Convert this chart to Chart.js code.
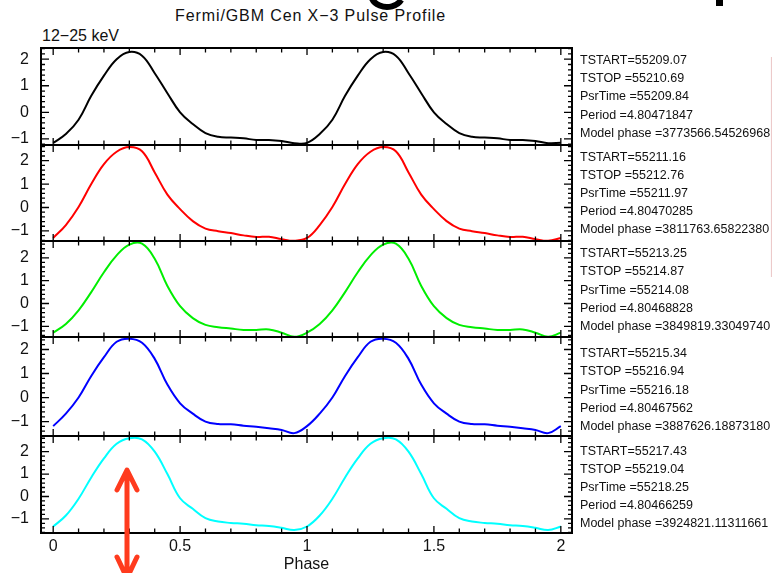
<!DOCTYPE html>
<html><head><meta charset="utf-8">
<script src="https://cdn.jsdelivr.net/npm/chart.js@4/dist/chart.umd.min.js"></script>
<style>
html,body{margin:0;padding:0;background:#fff;width:772px;height:573px;overflow:hidden;}
#wrap{position:relative;width:772px;height:573px;overflow:hidden;}
canvas{position:absolute;left:0;top:0;}
.t{position:absolute;font-family:"Liberation Sans",Arial,Helvetica,sans-serif;color:#111;white-space:nowrap;}
.info{font-size:12.5px;line-height:18.2px;}
</style></head><body><div id="wrap">
<div class="t" style="left:175px;top:7.5px;font-size:16px;line-height:16px;letter-spacing:0.9px;">Fermi/GBM Cen X−3 Pulse Profile</div>
<div class="t" style="left:42px;top:28px;font-size:16px;line-height:16px;">12−25 keV</div>
</div>
<script>
// ---- data (one pulse cycle, shown twice over phase 0-2) ----
const phase = [0,0.05,0.1,0.15,0.2,0.25,0.3,0.35,0.4,0.45,0.5,0.55,0.6,0.65,0.7,0.75,0.8,0.85,0.9,0.95];
const black = [-1.15,-0.82,-0.28,0.62,1.38,2.00,2.27,2.13,1.47,0.72,0.00,-0.44,-0.78,-0.92,-0.95,-0.98,-1.04,-1.04,-1.08,-1.16];
const red   = [-1.30,-0.75,0.02,1.00,1.85,2.38,2.58,2.40,1.50,0.55,-0.07,-0.58,-0.90,-1.01,-1.09,-1.19,-1.26,-1.25,-1.35,-1.42];
const green = [-1.28,-0.90,-0.30,0.50,1.37,2.11,2.58,2.62,1.96,0.77,-0.12,-0.64,-0.94,-1.04,-1.10,-1.16,-1.16,-1.14,-1.28,-1.46];
const blue  = [-1.19,-0.67,0.00,0.90,1.68,2.32,2.45,2.28,1.61,0.54,-0.24,-0.67,-1.00,-1.10,-1.11,-1.17,-1.22,-1.28,-1.35,-1.48];
const cyan  = [-1.34,-0.85,-0.10,0.85,1.70,2.35,2.60,2.55,2.00,1.00,-0.08,-0.55,-0.97,-1.12,-1.18,-1.22,-1.28,-1.32,-1.40,-1.50];
const xTicks = [0,0.5,1,1.5,2];
const yTicks = [-1,0,1,2];
const tstart = ['55209.07','55211.16','55213.25','55215.34','55217.43'];
const tstop  = ['55210.69','55212.76','55214.87','55216.94','55219.04'];
const psrTime= ['55209.84','55211.97','55214.08','55216.18','55218.25'];
const period = ['4.80471847','4.80470285','4.80468828','4.80467562','4.80466259'];
const modelPhase = ['3773566.54526968','3811763.65822380','3849819.33049740','3887626.18873180','3924821.11311661'];

const FONT = '"Liberation Sans", Arial, Helvetica, sans-serif';
const wrap = document.getElementById('wrap');

const panels = [
  {vals:black, color:'#000000', min:-1.23, max:2.42, top:48,  bottom:145, info:60},
  {vals:red,   color:'#ff0000', min:-1.43, max:2.67, top:145, bottom:241, info:156.7},
  {vals:green, color:'#00ee00', min:-1.47, max:2.74, top:241, bottom:337, info:253.3},
  {vals:blue,  color:'#0000ff', min:-1.60, max:2.52, top:337, bottom:436, info:353.3},
  {vals:cyan,  color:'#00ffff', min:-1.63, max:2.70, top:436, bottom:533, info:450.7}
];

const framePlugin = {
  id:'frame',
  afterDatasetsDraw(chart){
    const {ctx, chartArea:a} = chart;
    const x = chart.scales.x, y = chart.scales.y;
    ctx.save();
    ctx.strokeStyle = '#000';
    ctx.lineWidth = 1.3;
    ctx.beginPath();
    for (let k = 0; k <= 20; k++) {
      const px = x.getPixelForValue(k/10);
      const len = (k % 5 === 0) ? 7 : 4.5;
      ctx.moveTo(px, a.top); ctx.lineTo(px, a.top + len);
      ctx.moveTo(px, a.bottom); ctx.lineTo(px, a.bottom - len);
    }
    for (let k = Math.ceil(y.min*5); k <= Math.floor(y.max*5); k++) {
      const py = y.getPixelForValue(k/5);
      const len = (k % 5 === 0) ? 8 : 4;
      ctx.moveTo(a.left, py); ctx.lineTo(a.left + len, py);
      ctx.moveTo(a.right, py); ctx.lineTo(a.right - len, py);
    }
    ctx.stroke();
    ctx.lineWidth = 2;
    ctx.strokeRect(a.left, a.top, a.right - a.left, a.bottom - a.top);
    ctx.restore();
  }
};

const decoPlugin = {
  id:'deco',
  afterDraw(chart){
    const ctx = chart.ctx;
    ctx.save();
    // red double arrow annotation
    ctx.strokeStyle = '#ff3b1e'; ctx.lineWidth = 5; ctx.lineCap = 'round'; ctx.lineJoin = 'round';
    ctx.beginPath();
    ctx.moveTo(127, 472); ctx.lineTo(127, 576);
    ctx.moveTo(117, 490); ctx.lineTo(127, 470); ctx.lineTo(137, 490);
    ctx.moveTo(117, 557); ctx.lineTo(127, 578); ctx.lineTo(137, 557);
    ctx.stroke();
    // fragments of slide heading glyphs
    ctx.strokeStyle = '#000'; ctx.lineWidth = 6; ctx.lineCap = 'butt';
    ctx.beginPath();
    ctx.ellipse(387, -6, 16, 13, 0, 0.15*Math.PI, 0.95*Math.PI);
    ctx.stroke();
    ctx.fillStyle = '#000';
    ctx.fillRect(716, 0, 7, 6);
    // pink slide line
    ctx.strokeStyle = '#eccaca'; ctx.lineWidth = 1.2;
    ctx.beginPath(); ctx.moveTo(771.5, 57); ctx.lineTo(771.5, 277); ctx.stroke();
    ctx.restore();
  }
};

panels.forEach((p, i) => {
  const last = i === panels.length - 1;
  const cv = document.createElement('canvas');
  cv.width = 772; cv.height = 573;
  wrap.appendChild(cv);
  const pts = [];
  for (let c = 0; c < 2; c++) phase.forEach((ph, j) => pts.push({x: ph + c, y: p.vals[j]}));
  pts.push({x: 2, y: p.vals[0]});
  const xScale = {type: 'linear', min: -0.048, max: 2.044, display: last,
            grid: {display: false, drawTicks: false}, border: {display: false},
            afterBuildTicks: s => { s.ticks = xTicks.map(v => ({value: v})); },
            ticks: {font: {family: FONT, size: 16}, color: '#111', padding: 4, maxRotation: 0, autoSkip: false,
                    callback: v => String(v)},
            title: {display: true, text: 'Phase', font: {family: FONT, size: 16, lineHeight: 1}, color: '#111', padding: 0}};
  if (last) xScale.afterFit = s => { s.height = 40; };
  new Chart(cv, {
    type: 'line',
    data: {datasets: [{data: pts, borderColor: p.color, borderWidth: 2, pointRadius: 0,
                       tension: 0.4, fill: false}]},
    options: {
      responsive: false, animation: false, events: [],
      layout: {padding: {left: 0, right: 200, top: p.top, bottom: last ? 0 : 573 - p.bottom}},
      plugins: {legend: {display: false}, tooltip: {enabled: false}, title: {display: false}},
      scales: {
        x: xScale,
        y: {type: 'linear', min: p.min, max: p.max,
            grid: {display: false, drawTicks: false}, border: {display: false},
            afterBuildTicks: s => { s.ticks = yTicks.map(v => ({value: v})); },
            ticks: {font: {family: FONT, size: 16}, color: '#111', padding: 12, autoSkip: false,
                    callback: v => v < 0 ? '\u2212' + Math.abs(v) : String(v)},
            afterFit: s => { s.width = 41; }}
      }
    },
    plugins: last ? [framePlugin, decoPlugin] : [framePlugin]
  });
  const d = document.createElement('div');
  d.className = 't info';
  d.style.left = '580px';
  d.style.top = (p.info - 9.1) + 'px';
  d.innerHTML = 'TSTART=' + tstart[i] + '<br>TSTOP =' + tstop[i] + '<br>PsrTime =' + psrTime[i] +
                '<br>Period =' + period[i] + '<br>Model phase =' + modelPhase[i];
  wrap.appendChild(d);
});
</script>
</body></html>
